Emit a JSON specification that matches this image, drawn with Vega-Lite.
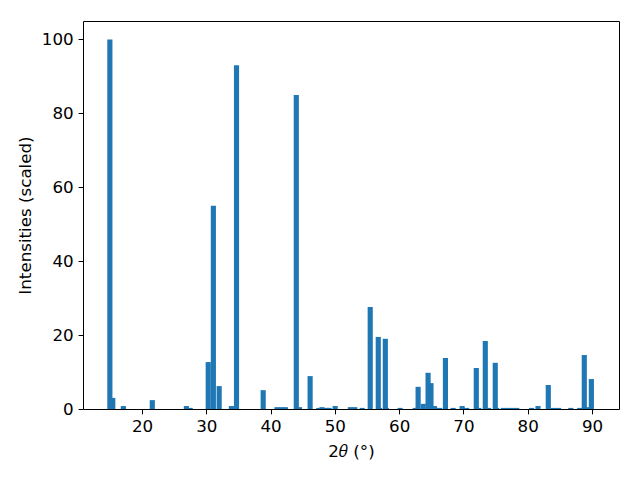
{
  "$schema": "https://vega.github.io/schema/vega-lite/v6.json",
  "width": 536,
  "height": 388,
  "autosize": "none",
  "padding": {"left": 83, "top": 21, "right": 21, "bottom": 71},
  "config": {
    "view": {"stroke": "#000000", "strokeWidth": 1},
    "font": "DejaVu Sans",
    "axis": {
      "grid": false,
      "domain": false,
      "tickColor": "#000000",
      "tickSize": 4.9,
      "labelColor": "#000000",
      "labelFontSize": 16.7,
      "labelFont": "DejaVu Sans",
      "labelPadding": 4.9,
      "titleColor": "#000000",
      "titleFontSize": 16.7,
      "titleFont": "DejaVu Sans",
      "titleFontWeight": "normal"
    }
  },
  "data": {
    "values": [
      {"t": 15.0, "i": 100},
      {"t": 15.45, "i": 3.0},
      {"t": 17.1, "i": 0.8},
      {"t": 21.6, "i": 2.4},
      {"t": 26.9, "i": 0.8},
      {"t": 27.5, "i": 0.3},
      {"t": 30.3, "i": 12.7},
      {"t": 31.1, "i": 55},
      {"t": 32.0, "i": 6.2},
      {"t": 33.9, "i": 0.8},
      {"t": 34.7, "i": 93},
      {"t": 38.85, "i": 5.1},
      {"t": 41.0, "i": 0.5},
      {"t": 41.7, "i": 0.5},
      {"t": 42.3, "i": 0.5},
      {"t": 44.0, "i": 85},
      {"t": 44.5, "i": 0.5},
      {"t": 46.15, "i": 8.9},
      {"t": 47.5, "i": 0.3},
      {"t": 48.0, "i": 0.5},
      {"t": 48.7, "i": 0.3},
      {"t": 49.1, "i": 0.3},
      {"t": 50.05, "i": 0.8},
      {"t": 52.4, "i": 0.5},
      {"t": 53.1, "i": 0.5},
      {"t": 54.25, "i": 0.3},
      {"t": 55.5, "i": 27.6},
      {"t": 56.75, "i": 19.5},
      {"t": 56.95, "i": 0.3},
      {"t": 57.85, "i": 19.0},
      {"t": 58.0, "i": 0.3},
      {"t": 60.15, "i": 0.3},
      {"t": 62.5, "i": 0.3},
      {"t": 62.95, "i": 6.0},
      {"t": 63.75, "i": 1.4},
      {"t": 64.5, "i": 9.8},
      {"t": 64.95, "i": 7.0},
      {"t": 65.5, "i": 0.8},
      {"t": 66.3, "i": 0.3},
      {"t": 67.2, "i": 13.8},
      {"t": 68.4, "i": 0.3},
      {"t": 69.8, "i": 0.8},
      {"t": 70.5, "i": 0.3},
      {"t": 72.0, "i": 11.1},
      {"t": 72.4, "i": 0.3},
      {"t": 73.4, "i": 18.4},
      {"t": 73.9, "i": 0.3},
      {"t": 74.95, "i": 12.5},
      {"t": 75.15, "i": 0.3},
      {"t": 76.2, "i": 0.3},
      {"t": 76.9, "i": 0.3},
      {"t": 77.6, "i": 0.3},
      {"t": 78.3, "i": 0.3},
      {"t": 80.6, "i": 0.3},
      {"t": 81.6, "i": 0.8},
      {"t": 83.2, "i": 6.5},
      {"t": 84.0, "i": 0.3},
      {"t": 84.8, "i": 0.3},
      {"t": 86.7, "i": 0.3},
      {"t": 88.1, "i": 0.3},
      {"t": 88.8, "i": 14.6},
      {"t": 89.3, "i": 0.5},
      {"t": 89.9, "i": 8.1}
    ]
  },
  "mark": {"type": "bar", "color": "#1f77b4", "width": 5.14, "orient": "vertical"},
  "encoding": {
    "x": {
      "field": "t",
      "type": "quantitative",
      "scale": {"domain": [10.82, 94.2], "nice": false, "zero": false, "padding": 0},
      "axis": {"values": [20, 30, 40, 50, 60, 70, 80, 90], "title": "2𝜃 (°)", "titlePadding": 8}
    },
    "y": {
      "field": "i",
      "type": "quantitative",
      "scale": {"domain": [0, 105], "nice": false, "padding": 0},
      "axis": {"values": [0, 20, 40, 60, 80, 100], "title": "Intensities (scaled)", "titlePadding": 7}
    }
  }
}
